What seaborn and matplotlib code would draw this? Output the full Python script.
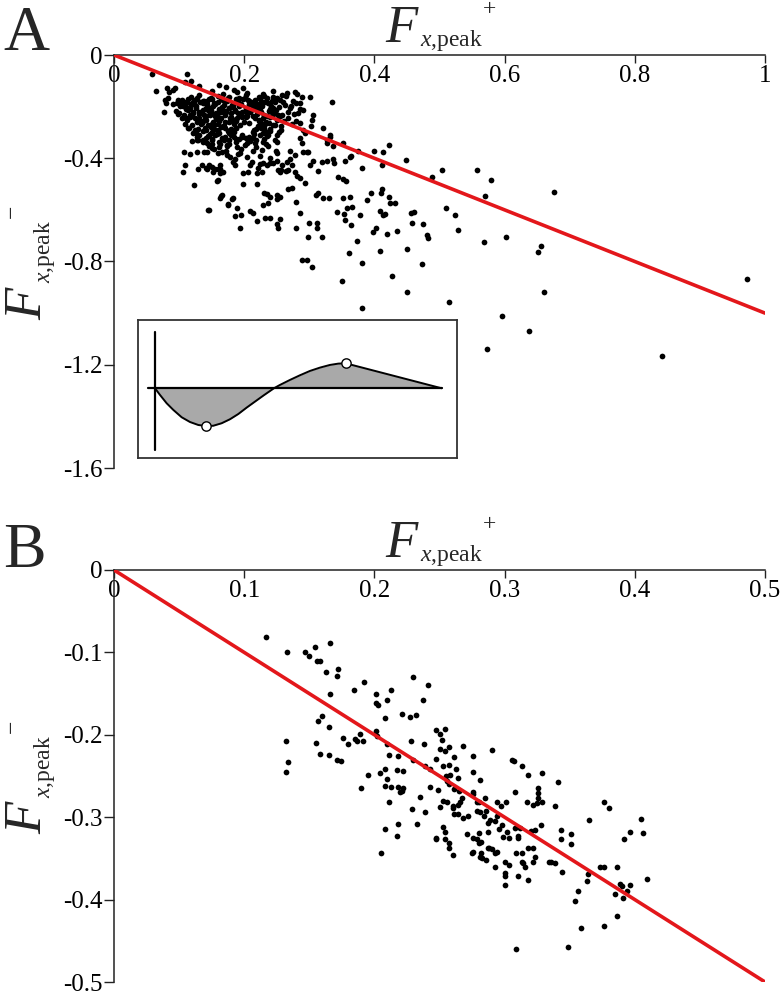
import matplotlib
matplotlib.use("Agg")
import matplotlib.pyplot as plt
import pandas as pd
import seaborn as sns

# ---------------- tick values / labels ----------------
a_xticks = [0, 0.2, 0.4, 0.6, 0.8, 1.0]
a_xticklabels = ["0", "0.2", "0.4", "0.6", "0.8", "1"]
a_yticks = [0, -0.4, -0.8, -1.2, -1.6]
a_yticklabels = ["0", "-0.4", "-0.8", "-1.2", "-1.6"]
b_xticks = [0, 0.1, 0.2, 0.3, 0.4, 0.5]
b_xticklabels = ["0", "0.1", "0.2", "0.3", "0.4", "0.5"]
b_yticks = [0, -0.1, -0.2, -0.3, -0.4, -0.5]
b_yticklabels = ["0", "-0.1", "-0.2", "-0.3", "-0.4", "-0.5"]

# ---------------- identity (y = -x) lines ----------------
a_line_x = [0.0, 1.0]
a_line_y = [0.0, -1.0]
b_line_x = [0.0, 0.5]
b_line_y = [0.0, -0.5]

# ---------------- panel A : dense core, row by row ----------------
a_core_rows_x = [
    [0.150, 0.168, 0.189, 0.205, 0.229, 0.244, 0.266, 0.281],
    [0.118, 0.131, 0.149, 0.160, 0.176, 0.192, 0.203, 0.222, 0.231, 0.251, 0.264, 0.289],
    [0.099, 0.114, 0.124, 0.139, 0.150, 0.167, 0.175, 0.190, 0.198, 0.216, 0.225, 0.242, 0.255, 0.275],
    [0.091, 0.107, 0.118, 0.132, 0.143, 0.159, 0.169, 0.185, 0.195, 0.210, 0.218, 0.236, 0.247, 0.263, 0.280],
    [0.102, 0.117, 0.126, 0.141, 0.152, 0.166, 0.176, 0.192, 0.202, 0.216, 0.227, 0.244, 0.254, 0.272],
    [0.096, 0.111, 0.121, 0.136, 0.146, 0.161, 0.170, 0.186, 0.196, 0.211, 0.221, 0.238, 0.249, 0.267, 0.286],
    [0.108, 0.122, 0.131, 0.147, 0.156, 0.170, 0.180, 0.194, 0.205, 0.220, 0.230, 0.247, 0.258, 0.276],
    [0.104, 0.116, 0.131, 0.140, 0.155, 0.165, 0.179, 0.189, 0.202, 0.214, 0.229, 0.239, 0.255, 0.267],
    [0.112, 0.127, 0.137, 0.152, 0.162, 0.177, 0.187, 0.200, 0.223, 0.234, 0.250, 0.261],
    [0.120, 0.133, 0.144, 0.159, 0.169, 0.184, 0.193, 0.221, 0.232, 0.247, 0.257, 0.273],
    [0.115, 0.129, 0.140, 0.154, 0.165, 0.180, 0.188, 0.215, 0.230, 0.240, 0.257],
    [0.126, 0.136, 0.151, 0.161, 0.175, 0.185, 0.214, 0.229, 0.239, 0.254],
    [0.131, 0.145, 0.155, 0.170, 0.180, 0.196, 0.208, 0.224, 0.235, 0.250],
    [0.127, 0.141, 0.151, 0.166, 0.177, 0.192, 0.203, 0.218, 0.230, 0.247],
    [0.137, 0.151, 0.162, 0.177, 0.188, 0.204, 0.217, 0.233, 0.251],
    [0.146, 0.162, 0.173, 0.189, 0.201, 0.218, 0.236],
    [0.153, 0.172, 0.195, 0.213, 0.228, 0.249],
]
a_core_rows_y = [
    [-0.139, -0.151, -0.143, -0.148, -0.153, -0.141, -0.147, -0.152],
    [-0.163, -0.156, -0.165, -0.158, -0.161, -0.166, -0.155, -0.163, -0.159, -0.167, -0.157, -0.162],
    [-0.176, -0.169, -0.174, -0.178, -0.170, -0.175, -0.168, -0.179, -0.172, -0.176, -0.170, -0.180, -0.173, -0.177],
    [-0.189, -0.182, -0.190, -0.184, -0.188, -0.181, -0.192, -0.185, -0.189, -0.183, -0.191, -0.186, -0.182, -0.193, -0.187],
    [-0.197, -0.204, -0.199, -0.206, -0.196, -0.202, -0.207, -0.198, -0.204, -0.200, -0.196, -0.205, -0.201, -0.199],
    [-0.217, -0.211, -0.219, -0.213, -0.218, -0.210, -0.216, -0.212, -0.220, -0.214, -0.209, -0.217, -0.213, -0.219, -0.211],
    [-0.231, -0.225, -0.229, -0.234, -0.226, -0.232, -0.224, -0.230, -0.235, -0.227, -0.233, -0.226, -0.231, -0.229],
    [-0.245, -0.239, -0.243, -0.247, -0.238, -0.244, -0.240, -0.246, -0.241, -0.238, -0.245, -0.242, -0.237, -0.246],
    [-0.253, -0.259, -0.254, -0.261, -0.252, -0.258, -0.255, -0.260, -0.254, -0.259, -0.252, -0.257],
    [-0.273, -0.266, -0.272, -0.268, -0.275, -0.267, -0.271, -0.274, -0.266, -0.271, -0.276, -0.268],
    [-0.281, -0.288, -0.283, -0.287, -0.280, -0.286, -0.282, -0.289, -0.281, -0.285, -0.290],
    [-0.301, -0.295, -0.299, -0.303, -0.294, -0.300, -0.297, -0.302, -0.296, -0.300],
    [-0.309, -0.315, -0.311, -0.316, -0.308, -0.313, -0.317, -0.310, -0.314, -0.309],
    [-0.329, -0.323, -0.328, -0.322, -0.330, -0.325, -0.321, -0.328, -0.324, -0.330],
    [-0.337, -0.343, -0.338, -0.344, -0.336, -0.342, -0.339, -0.345, -0.338],
    [-0.351, -0.357, -0.352, -0.358, -0.350, -0.356, -0.353],
    [-0.366, -0.371, -0.365, -0.372, -0.367, -0.370],
]
a_core_fill_x = [0.125, 0.143, 0.163, 0.182, 0.201, 0.157, 0.176, 0.197, 0.135, 0.171,
                 0.209, 0.148, 0.184, 0.222, 0.139, 0.167, 0.160, 0.181, 0.207, 0.226,
                 0.240, 0.119, 0.110, 0.153, 0.174, 0.213, 0.232, 0.145,
                 0.128, 0.146, 0.165, 0.187, 0.206, 0.224, 0.137, 0.155, 0.174, 0.193,
                 0.212, 0.231, 0.126, 0.145, 0.164, 0.183, 0.202, 0.221, 0.241, 0.134,
                 0.153, 0.172, 0.191, 0.226, 0.244, 0.142, 0.161, 0.180, 0.222, 0.238,
                 0.149, 0.168, 0.187, 0.207, 0.226, 0.158, 0.177, 0.196, 0.215, 0.106,
                 0.100, 0.260, 0.270, 0.252]
a_core_fill_y = [-0.193, -0.179, -0.221, -0.195, -0.167, -0.249, -0.207, -0.237, -0.264, -0.283,
                 -0.222, -0.307, -0.319, -0.190, -0.231, -0.174, -0.292, -0.248, -0.188, -0.262,
                 -0.208, -0.237, -0.203, -0.271, -0.347, -0.321, -0.293, -0.215,
                 -0.168, -0.172, -0.165, -0.170, -0.174, -0.167, -0.185, -0.191, -0.180, -0.188,
                 -0.193, -0.184, -0.207, -0.203, -0.210, -0.202, -0.209, -0.204, -0.198, -0.222,
                 -0.227, -0.220, -0.226, -0.221, -0.229, -0.252, -0.256, -0.251, -0.250, -0.265,
                 -0.279, -0.276, -0.281, -0.262, -0.284, -0.306, -0.302, -0.308, -0.305, -0.196,
                 -0.226, -0.182, -0.205, -0.232]
a_core_fill2_x = [0.121, 0.137, 0.154, 0.171, 0.189, 0.208, 0.227, 0.246, 0.114, 0.130,
                  0.149, 0.167, 0.186, 0.205, 0.224, 0.243, 0.124, 0.142, 0.160, 0.178,
                  0.197, 0.216, 0.235, 0.133, 0.151, 0.170, 0.226, 0.244, 0.141, 0.159,
                  0.178, 0.197, 0.218, 0.237, 0.150, 0.169, 0.188, 0.209, 0.229, 0.163]
a_core_fill2_y = [-0.182, -0.177, -0.186, -0.179, -0.184, -0.177, -0.188, -0.176, -0.214, -0.219,
                  -0.213, -0.222, -0.217, -0.225, -0.212, -0.219, -0.243, -0.236, -0.241, -0.245,
                  -0.239, -0.243, -0.237, -0.262, -0.266, -0.259, -0.279, -0.272, -0.292, -0.297,
                  -0.289, -0.318, -0.286, -0.310, -0.325, -0.331, -0.327, -0.334, -0.336, -0.345]

# ---------------- panel A : points around the core ----------------
a_edge_x = [0.058, 0.065, 0.081, 0.094, 0.091, 0.084, 0.112, 0.118, 0.109, 0.131,
            0.078, 0.080, 0.077, 0.083, 0.098, 0.097, 0.101, 0.104, 0.112, 0.109,
            0.109, 0.111, 0.114, 0.117, 0.121, 0.127, 0.124, 0.129, 0.120,
            0.108, 0.117, 0.127, 0.109, 0.106, 0.138, 0.143, 0.151,
            0.135, 0.143, 0.151, 0.155, 0.163, 0.143, 0.137,
            0.123, 0.129, 0.141, 0.146, 0.146, 0.158, 0.163, 0.166, 0.175, 0.183,
            0.162, 0.172, 0.184, 0.198, 0.258, 0.244, 0.235,
            0.301, 0.335, 0.278, 0.286, 0.290, 0.283, 0.304, 0.303, 0.286, 0.280,
            0.321, 0.332, 0.327, 0.352, 0.363, 0.375, 0.306, 0.290, 0.293, 0.286,
            0.289, 0.298, 0.290,
            0.166, 0.178, 0.186, 0.167, 0.163, 0.194, 0.221, 0.235, 0.227, 0.206,
            0.250, 0.258, 0.255, 0.266, 0.278,
            0.160, 0.190, 0.225, 0.250, 0.270, 0.240, 0.205]
a_edge_y = [-0.074, -0.140, -0.128, -0.128, -0.136, -0.144, -0.074, -0.101, -0.105, -0.121,
            -0.175, -0.187, -0.222, -0.167, -0.230, -0.187, -0.183, -0.175, -0.183, -0.195,
            -0.268, -0.245, -0.284, -0.233, -0.304, -0.319, -0.292, -0.331, -0.335,
            -0.377, -0.385, -0.377, -0.428, -0.455, -0.374, -0.377, -0.362,
            -0.428, -0.440, -0.432, -0.440, -0.440, -0.342, -0.331,
            -0.502, -0.440, -0.436, -0.428, -0.599, -0.490, -0.553, -0.541, -0.576, -0.553,
            -0.118, -0.125, -0.136, -0.128, -0.156, -0.163, -0.167,
            -0.163, -0.183, -0.144, -0.187, -0.214, -0.226, -0.253, -0.276, -0.265, -0.257,
            -0.284, -0.319, -0.331, -0.342, -0.397, -0.370, -0.233, -0.292, -0.304, -0.323,
            -0.342, -0.374, -0.377,
            -0.377, -0.397, -0.428, -0.455, -0.428, -0.381, -0.436, -0.428, -0.455, -0.455,
            -0.409, -0.428, -0.455, -0.416, -0.389,
            -0.380, -0.385, -0.390, -0.380, -0.370, -0.400, -0.395]

# ---------------- panel A : sparse tail ----------------
a_tail_x = [0.332, 0.327, 0.336, 0.399, 0.413, 0.422, 0.449, 0.412, 0.381, 0.364,
            0.355, 0.504, 0.488, 0.558, 0.579, 0.570, 0.676, 0.344, 0.352, 0.356,
            0.296, 0.301, 0.306, 0.313, 0.320, 0.327, 0.336, 0.338, 0.270, 0.273,
            0.267, 0.264, 0.278, 0.281, 0.286, 0.293, 0.252, 0.257, 0.244, 0.240,
            0.229, 0.224, 0.220, 0.220, 0.212, 0.209, 0.198, 0.198, 0.160, 0.163,
            0.160, 0.152, 0.183, 0.186, 0.174, 0.273, 0.267, 0.230, 0.235, 0.240,
            0.237, 0.229, 0.250, 0.255, 0.250, 0.232, 0.240, 0.255, 0.250, 0.252,
            0.214, 0.220, 0.209, 0.186, 0.195, 0.194, 0.189, 0.181, 0.175, 0.164,
            0.144, 0.280, 0.280, 0.286, 0.300, 0.312, 0.312, 0.298, 0.320, 0.310,
            0.313, 0.321, 0.330, 0.343, 0.353, 0.358, 0.366, 0.355, 0.364, 0.352,
            0.363, 0.373, 0.361, 0.381, 0.350, 0.381, 0.289, 0.296, 0.304, 0.378,
            0.389, 0.395, 0.412, 0.410, 0.422, 0.424, 0.432, 0.409, 0.416, 0.413,
            0.398, 0.402, 0.419, 0.435, 0.409, 0.450, 0.427, 0.450, 0.473, 0.456,
            0.461, 0.458, 0.475, 0.481, 0.482, 0.510, 0.524, 0.528, 0.568, 0.602,
            0.515, 0.656, 0.651, 0.661, 0.596, 0.637, 0.573, 0.972, 0.842]
a_tail_y = [-0.311, -0.342, -0.354, -0.370, -0.377, -0.350, -0.405, -0.428, -0.436, -0.393,
            -0.409, -0.444, -0.471, -0.444, -0.486, -0.545, -0.529, -0.471, -0.479, -0.490,
            -0.377, -0.428, -0.409, -0.451, -0.416, -0.412, -0.401, -0.420, -0.401, -0.428,
            -0.447, -0.451, -0.455, -0.467, -0.475, -0.494, -0.444, -0.447, -0.420, -0.420,
            -0.420, -0.424, -0.459, -0.498, -0.416, -0.428, -0.498, -0.459, -0.440, -0.459,
            -0.486, -0.455, -0.416, -0.401, -0.389, -0.514, -0.518, -0.533, -0.537, -0.549,
            -0.572, -0.580, -0.541, -0.549, -0.556, -0.630, -0.630, -0.634, -0.654, -0.669,
            -0.611, -0.642, -0.603, -0.623, -0.619, -0.669, -0.591, -0.556, -0.580, -0.545,
            -0.599, -0.568, -0.669, -0.611, -0.650, -0.650, -0.669, -0.704, -0.704, -0.541,
            -0.533, -0.553, -0.553, -0.607, -0.615, -0.591, -0.588, -0.638, -0.658, -0.553,
            -0.549, -0.720, -0.767, -0.805, -0.875, -0.981, -0.794, -0.794, -0.821, -0.619,
            -0.560, -0.533, -0.518, -0.533, -0.549, -0.572, -0.572, -0.603, -0.615, -0.619,
            -0.685, -0.669, -0.693, -0.681, -0.759, -0.751, -0.856, -0.918, -0.809, -0.611,
            -0.607, -0.650, -0.654, -0.696, -0.708, -0.591, -0.619, -0.677, -0.724, -0.704,
            -0.957, -0.739, -0.763, -0.918, -1.012, -1.070, -1.140, -0.868, -1.167]

# ---------------- panel B ----------------
b_x = [0.117, 0.133, 0.147, 0.150, 0.154, 0.166, 0.156, 0.158, 0.163, 0.172,
       0.171, 0.166, 0.192, 0.184, 0.201, 0.201, 0.203, 0.210, 0.213, 0.230,
       0.241, 0.237, 0.208, 0.221, 0.227, 0.232, 0.160, 0.157, 0.165, 0.132,
       0.134, 0.132, 0.155, 0.158, 0.165, 0.171, 0.174, 0.176, 0.180, 0.185,
       0.187, 0.189, 0.191, 0.201, 0.202, 0.210, 0.211, 0.218, 0.228, 0.238,
       0.247, 0.250, 0.254, 0.252, 0.250, 0.254, 0.257, 0.268, 0.290, 0.261,
       0.247, 0.239, 0.243, 0.230, 0.276, 0.306, 0.307, 0.313, 0.318, 0.253,
       0.257, 0.263, 0.276, 0.281, 0.255, 0.258, 0.264, 0.256, 0.257, 0.195,
       0.204, 0.208, 0.217, 0.222, 0.210, 0.190, 0.208, 0.213, 0.218, 0.222,
       0.221, 0.243, 0.249, 0.276, 0.308, 0.326,
       0.376, 0.380, 0.365, 0.405, 0.396, 0.406, 0.392, 0.409, 0.376, 0.373,
       0.386, 0.389, 0.390, 0.396, 0.385, 0.391, 0.394, 0.386, 0.376, 0.364,
       0.363, 0.356, 0.354, 0.359, 0.349, 0.309, 0.343, 0.343, 0.351, 0.351,
       0.344, 0.334, 0.336, 0.339, 0.328, 0.323, 0.320, 0.339, 0.341, 0.329,
       0.326, 0.326, 0.329, 0.325, 0.322, 0.317, 0.322, 0.318, 0.323, 0.322,
       0.318, 0.313, 0.313, 0.314, 0.316, 0.310, 0.300, 0.303, 0.300, 0.300,
       0.300, 0.294, 0.293, 0.293, 0.288, 0.290, 0.286, 0.282, 0.281, 0.283,
       0.275, 0.309, 0.310, 0.310, 0.312, 0.308, 0.298, 0.296, 0.302, 0.303,
       0.299, 0.287, 0.289, 0.293, 0.294, 0.284, 0.286, 0.281, 0.279, 0.280,
       0.272, 0.276, 0.280, 0.279, 0.280, 0.276, 0.282, 0.271, 0.287, 0.287,
       0.260, 0.257, 0.257, 0.254, 0.254, 0.253, 0.247, 0.247, 0.261, 0.264,
       0.268, 0.253, 0.256, 0.260, 0.260, 0.264, 0.267, 0.266, 0.250, 0.239,
       0.229, 0.235, 0.233, 0.211, 0.220, 0.208, 0.217, 0.218, 0.205,
       0.261, 0.265, 0.276, 0.279, 0.285, 0.294, 0.297, 0.301]
b_y = [-0.081, -0.100, -0.099, -0.104, -0.093, -0.089, -0.111, -0.110, -0.124, -0.120,
       -0.129, -0.151, -0.136, -0.146, -0.151, -0.162, -0.164, -0.158, -0.146, -0.130,
       -0.139, -0.158, -0.180, -0.175, -0.179, -0.176, -0.177, -0.183, -0.190, -0.208,
       -0.233, -0.245, -0.210, -0.223, -0.225, -0.230, -0.232, -0.204, -0.211, -0.205,
       -0.207, -0.199, -0.207, -0.195, -0.201, -0.211, -0.224, -0.226, -0.207, -0.211,
       -0.194, -0.199, -0.193, -0.206, -0.217, -0.220, -0.215, -0.214, -0.218, -0.227,
       -0.229, -0.238, -0.242, -0.231, -0.226, -0.230, -0.232, -0.238, -0.249, -0.238,
       -0.237, -0.242, -0.245, -0.255, -0.250, -0.249, -0.252, -0.256, -0.260, -0.249,
       -0.246, -0.242, -0.243, -0.244, -0.254, -0.264, -0.262, -0.263, -0.263, -0.264,
       -0.268, -0.263, -0.267, -0.270, -0.269, -0.265,
       -0.282, -0.289, -0.304, -0.302, -0.318, -0.319, -0.327, -0.375, -0.360, -0.361,
       -0.361, -0.381, -0.383, -0.382, -0.393, -0.398, -0.390, -0.420, -0.432, -0.369,
       -0.377, -0.389, -0.402, -0.435, -0.457, -0.460, -0.315, -0.326, -0.320, -0.332,
       -0.367, -0.354, -0.354, -0.355, -0.310, -0.315, -0.317, -0.286, -0.257, -0.246,
       -0.271, -0.277, -0.281, -0.283, -0.285, -0.281, -0.337, -0.337, -0.348, -0.354,
       -0.376, -0.343, -0.354, -0.355, -0.360, -0.371, -0.354, -0.358, -0.368, -0.371,
       -0.382, -0.342, -0.343, -0.360, -0.337, -0.339, -0.352, -0.343, -0.348, -0.349,
       -0.343, -0.343, -0.325, -0.323, -0.313, -0.313, -0.310, -0.314, -0.318, -0.325,
       -0.324, -0.307, -0.304, -0.305, -0.298, -0.298, -0.292, -0.294, -0.292, -0.282,
       -0.298, -0.325, -0.319, -0.327, -0.331, -0.342, -0.330, -0.320, -0.318, -0.337,
       -0.346, -0.337, -0.331, -0.327, -0.318, -0.312, -0.325, -0.327, -0.296, -0.296,
       -0.301, -0.280, -0.282, -0.286, -0.289, -0.285, -0.277, -0.281, -0.288, -0.294,
       -0.290, -0.276, -0.308, -0.281, -0.269, -0.314, -0.323, -0.308, -0.343,
       -0.266, -0.268, -0.272, -0.282, -0.277, -0.282, -0.286, -0.282]

# ---------------- inset schematic ----------------
inset_t = [0.0, 0.0174, 0.0405, 0.0637, 0.0926, 0.1215, 0.1505, 0.1771, 0.2025, 0.2315,
           0.2604, 0.2894, 0.3183, 0.3472, 0.3762, 0.4132, 0.434, 0.4687, 0.5035, 0.5382,
           0.5729, 0.6076, 0.6366, 0.662, 0.6887, 0.9954]
inset_a = [0.0, -0.268, -0.60, -0.867, -1.16, -1.35, -1.47, -1.51, -1.50, -1.40,
           -1.24, -1.03, -0.775, -0.535, -0.295, 0.0, 0.132, 0.332, 0.519, 0.692,
           0.825, 0.932, 0.985, 1.0, 0.919, 0.0]
inset_marker_t = [0.1771, 0.662]
inset_marker_a = [-1.51, 1.0]
inset_zero_t = [-0.024, 0.997]
inset_zero_a = [0.0, 0.0]
inset_vert_t = [0.0, 0.0]
inset_vert_a = [-2.47, 2.25]

# ---------------- build frames ----------------
core_x = [v for row in a_core_rows_x for v in row] + a_core_fill_x + a_core_fill2_x
core_y = [v for row in a_core_rows_y for v in row] + a_core_fill_y + a_core_fill2_y
df_a = pd.DataFrame({"x": core_x + a_edge_x + a_tail_x,
                     "y": core_y + a_edge_y + a_tail_y})
df_b = pd.DataFrame({"x": b_x, "y": b_y})

# ---------------- style ----------------
sns.set_style("white")
plt.rcParams["font.family"] = ["Liberation Serif", "DejaVu Serif"]
plt.rcParams["mathtext.fontset"] = "custom"
plt.rcParams["mathtext.it"] = "Liberation Serif:italic"
plt.rcParams["mathtext.rm"] = "Liberation Serif"

RED = "#e3171b"
W, H = 781, 997
fig = plt.figure(figsize=(W / 100, H / 100), dpi=100)


def px_axes(l, t, r, b):
    return fig.add_axes([l / W, 1 - b / H, (r - l) / W, (b - t) / H])


axA = px_axes(114, 55, 765, 468)
axB = px_axes(114, 570, 765, 982)


def style_axes(ax, xlim, ylim, xt, xtl, yt, ytl):
    ax.set_xlim(*xlim)
    ax.set_ylim(*ylim)
    for s in ("top", "right"):
        ax.spines[s].set_visible(False)
    ax.spines["bottom"].set_position(("data", 0))
    for s in ("bottom", "left"):
        ax.spines[s].set_linewidth(1.1)
        ax.spines[s].set_color("#222222")
    ax.set_xticks(xt)
    ax.set_xticklabels(xtl)
    ax.set_yticks(yt)
    ax.set_yticklabels(ytl)
    ax.tick_params(axis="x", direction="out", length=5.5, width=1.0, pad=2,
                   labelsize=18, colors="#222222", bottom=True)
    ax.tick_params(axis="y", direction="out", length=7, width=1.0, pad=1.5,
                   labelsize=18, colors="#222222", left=True)
    for lab in ax.get_xticklabels() + ax.get_yticklabels():
        lab.set_color("black")
    ax.set_xlabel("")
    ax.set_ylabel("")
    ax.patch.set_alpha(0)


def axis_titles(ax):
    kw = dict(xycoords="axes fraction", textcoords="offset points", annotation_clip=False)
    # top x label:  F_{x,peak}^+
    ax.annotate("F", xy=(0.5, 1), xytext=(-39, 9.4), fontsize=38, fontstyle="italic",
                ha="left", va="baseline", **kw)
    ax.annotate(r"$x$,peak", xy=(0.5, 1), xytext=(-14, 6.5), fontsize=17,
                ha="left", va="baseline", **kw)
    ax.annotate("+", xy=(0.5, 1), xytext=(36, 32.5), fontsize=17,
                ha="center", va="center", **kw)
    # left y label:  F_{x,peak}^-
    ax.annotate("F", xy=(0, 0.5), xytext=(-52, -42), fontsize=38, fontstyle="italic",
                rotation=90, rotation_mode="anchor", ha="left", va="baseline", **kw)
    ax.annotate(r"$x$,peak", xy=(0, 0.5), xytext=(-46, -15.5), fontsize=17,
                rotation=90, rotation_mode="anchor", ha="left", va="baseline", **kw)
    ax.annotate("\u2212", xy=(0, 0.5), xytext=(-73, 36), fontsize=17,
                rotation=90, ha="center", va="center", **kw)


# ---------------- panel A ----------------
sns.scatterplot(data=df_a, x="x", y="y", ax=axA, s=17, color="black",
                linewidth=0, legend=False, zorder=2)
sns.lineplot(x=a_line_x, y=a_line_y, ax=axA, color=RED, linewidth=2.6, zorder=3)
style_axes(axA, (0, 1), (-1.6, 0), a_xticks, a_xticklabels, a_yticks, a_yticklabels)
axis_titles(axA)

# ---------------- panel B ----------------
sns.scatterplot(data=df_b, x="x", y="y", ax=axB, s=17, color="black",
                linewidth=0, legend=False, zorder=2)
sns.lineplot(x=b_line_x, y=b_line_y, ax=axB, color=RED, linewidth=2.6, zorder=3)
style_axes(axB, (0, 0.5), (-0.5, 0), b_xticks, b_xticklabels, b_yticks, b_yticklabels)
axis_titles(axB)

# ---------------- inset ----------------
axI = px_axes(138, 320, 457, 458)
axI.set_facecolor("white")
axI.set_zorder(5)
axI.fill_between(inset_t, inset_a, 0, color="#a9a9a9", linewidth=0, zorder=1)
sns.lineplot(x=inset_zero_t, y=inset_zero_a, ax=axI, color="black", linewidth=1.6, zorder=2)
sns.lineplot(x=inset_vert_t, y=inset_vert_a, ax=axI, color="black", linewidth=1.6,
             zorder=2, sort=False, estimator=None, orient="y")
sns.lineplot(x=inset_t, y=inset_a, ax=axI, color="black", linewidth=1.4, zorder=3,
             sort=False, estimator=None)
sns.scatterplot(x=inset_marker_t, y=inset_marker_a, ax=axI, s=45, color="white",
                edgecolor="black", linewidth=1.0, zorder=4, legend=False)
axI.set_xlim(-0.059, 1.049)
axI.set_ylim(-2.79, 2.73)
axI.set_xticks([])
axI.set_yticks([])
axI.set_xlabel("")
axI.set_ylabel("")
for s in axI.spines.values():
    s.set_visible(True)
    s.set_linewidth(1.3)
    s.set_color("#333333")

# ---------------- panel letters ----------------
fig.text(3 / W, 1 - 50 / H, "A", fontsize=46, ha="left", va="baseline")
fig.text(3 / W, 1 - 567 / H, "B", fontsize=46, ha="left", va="baseline")

fig.savefig("out.png", dpi=100)
